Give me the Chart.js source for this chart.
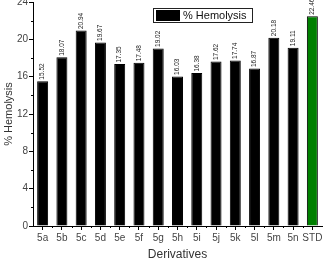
<!DOCTYPE html>
<html>
<head>
<meta charset="utf-8">
<script src="https://cdn.jsdelivr.net/npm/chart.js@4"></script>
<style>
  html,body{margin:0;padding:0;background:#fff}
  #wrap{width:323px;height:262px;position:relative}
</style>
</head>
<body>
<div id="wrap"><canvas id="c" width="323" height="262"></canvas></div>
<script>
// data
const categories = ['5a','5b','5c','5d','5e','5f','5g','5h','5i','5j','5k','5l','5m','5n','STD']
const hemolysis = [15.52,18.07,20.94,19.67,17.35,17.48,19.02,16.03,16.38,17.62,17.74,16.87,20.18,19.11,22.46]
const yTicks = [0,4,8,12,16,20,24]
const seriesLabel = '% Hemolysis'

const barColors = categories.map(c => c==='STD' ? '#008000' : '#000000')
const FONT = "'Liberation Sans', Arial, sans-serif"

// value labels, minor ticks and the boxed legend
const extras = {
  id:'extras',
  afterDatasetsDraw(chart){
    const ctx = chart.ctx
    const meta = chart.getDatasetMeta(0)
    ctx.save()
    ctx.fillStyle = '#222'
    ctx.font = '6.5px ' + FONT
    ctx.textAlign = 'left'; ctx.textBaseline = 'middle'
    meta.data.forEach((bar,i)=>{
      ctx.save()
      ctx.translate(bar.x, bar.y - 1.5)
      ctx.rotate(-Math.PI/2)
      ctx.fillText(hemolysis[i].toFixed(2), 0, 0)
      ctx.restore()
    })
    // minor ticks
    const x = chart.scales.x, y = chart.scales.y
    ctx.strokeStyle = '#000'; ctx.lineWidth = 1
    ctx.beginPath()
    for(let i=0;i<yTicks.length-1;i++){
      const py = Math.round(y.getPixelForValue((yTicks[i]+yTicks[i+1])/2)) + 0.5
      ctx.moveTo(x.left - 2, py); ctx.lineTo(x.left, py)
    }
    const step = x.getPixelForValue(1) - x.getPixelForValue(0)
    for(let i=0;i<categories.length-1;i++){
      const px = Math.round(x.getPixelForValue(i) + step/2) + 0.5
      ctx.moveTo(px, y.bottom); ctx.lineTo(px, y.bottom + 2)
    }
    ctx.stroke()
    // legend box
    const lx = 153.5, ly = 8.5, lw = 99, lh = 14
    ctx.fillStyle = '#fff'
    ctx.fillRect(lx, ly, lw, lh)
    ctx.strokeStyle = '#222'
    ctx.strokeRect(lx, ly, lw, lh)
    ctx.fillStyle = '#000'
    ctx.fillRect(156, 10, 24, 11)
    ctx.font = '11px ' + FONT
    ctx.fillStyle = '#111'
    ctx.textBaseline = 'middle'
    ctx.fillText(seriesLabel, 183, 16)
    ctx.restore()
  }
}

new Chart(document.getElementById('c'), {
  type:'bar',
  data:{
    labels: categories,
    datasets:[{
      label: seriesLabel,
      data: hemolysis,
      backgroundColor: barColors,
      borderColor: '#000',
      borderWidth: 1,
      barPercentage: 0.57,
      categoryPercentage: 1
    }]
  },
  options:{
    responsive:false,
    animation:false,
    layout:{padding:{left:0,right:1,top:0,bottom:0}},
    plugins:{legend:{display:false}, tooltip:{enabled:false}},
    scales:{
      x:{
        grid:{offset:false, drawOnChartArea:false, tickLength:4, color:'#000'},
        border:{color:'#000', width:1},
        ticks:{color:'#444', font:{family:FONT, size:10}, padding:2, maxRotation:0, autoSkip:false},
        title:{display:true, text:'Derivatives', color:'#333', font:{family:FONT, size:12}, padding:{top:3,bottom:0}},
        afterFit(s){ s.height = 36; s.paddingRight = 1 }
      },
      y:{
        min:0, max:24,
        afterBuildTicks(s){ s.ticks = yTicks.map(v=>({value:v})) },
        grid:{drawOnChartArea:false, tickLength:4, color:'#000'},
        border:{color:'#000', width:1},
        ticks:{color:'#444', font:{family:FONT, size:10}, padding:1},
        title:{display:true, text:'% Hemolysis', color:'#333', font:{family:FONT, size:11}, padding:{top:2,bottom:0}},
        afterFit(s){ s.width = 33; s.paddingTop = 2; s.paddingBottom = 0 }
      }
    }
  },
  plugins:[extras]
})
</script>
</body>
</html>
